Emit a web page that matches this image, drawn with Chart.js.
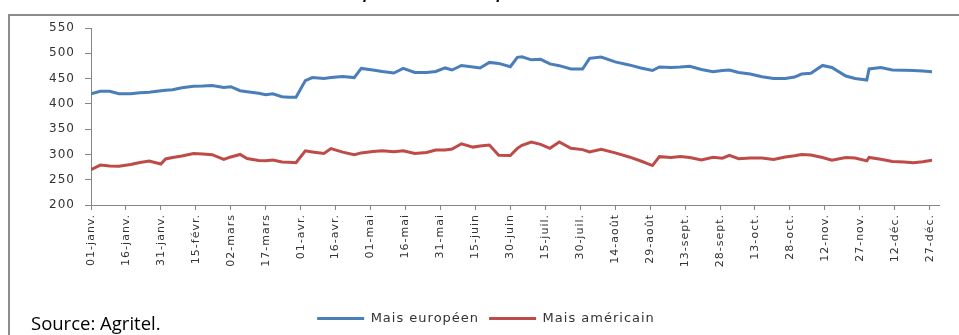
<!DOCTYPE html>
<html>
<head>
<meta charset="utf-8">
<script src="https://cdn.jsdelivr.net/npm/chart.js@4/dist/chart.umd.min.js"></script>
<style>
  html, body { margin: 0; padding: 0; background: #fff; overflow: hidden; }
  #wrap { width: 959px; height: 335px; position: relative; overflow: hidden; }
</style>
</head>
<body>
<div id="wrap"><canvas id="prix"></canvas></div>
<script>
// jour de l'année (0 = 1er janvier) pour chaque cotation
var jours = [0,4,8,12,17,21,25,30,32,35,39,44,48,52,57,60,64,67,72,75,78,82,85,88,
  92,95,100,103,108,113,116,121,125,130,134,139,144,148,152,155,159,164,167,171,175,
  180,183,185,189,193,197,201,206,211,214,219,225,231,236,241,244,249,253,257,262,267,
  271,274,278,283,288,293,298,302,305,309,314,318,324,328,333,334,339,344,349,353,357,361];

var maisEuropeen = [420,425,425,420,420,422,423,426,427,428,432,435,435.5,436.5,432.5,434,426,424,421,418,420,414,413,413,
  446,452,450,452,454,452,470,467,464,461,470,462,462,464,471,467,476,473,471,482,480,
  473.5,492,493,487,488,479,475.5,469,469,490,492.5,483,477,471,466,473,472,473,474.5,468,463.6,
  466,467,462,459,453.5,450,450,453,459,460.4,476,472,455,450,447,469,472,467,466.5,466,465,463.6];

var maisAmericain = [270,279,277,276.5,280,284,287,281,291,294,297,302,301,299.5,290,295,300,292,288,287.6,289,285,284.5,283.7,
  307,305,302,311.5,304.5,299.5,303,306,307.4,305.5,307.4,302,304,308.8,309,310.8,321,314.5,316.5,318.7,298.5,
  298,312,318,324.5,320,312,324.5,312,309.5,305,310,303,295,287,278,295.6,294,296,294,289,294.5,
  292.5,298,291.5,293,293,290,295,297.5,300,299,294,288.5,294,293,287.3,294,290.5,286,285,283.7,285.5,288.5];

// une étiquette tous les 15 jours
var etiquettes = ['01-janv.','16-janv.','31-janv.','15-févr.','02-mars','17-mars','01-avr.','16-avr.',
  '01-mai','16-mai','31-mai','15-juin','30-juin','15-juil.','30-juil.','14-août','29-août',
  '13-sept.','28-sept.','13-oct.','28-oct.','12-nov.','27-nov.','12-déc.','27-déc.'];

function serie(valeurs) {
  return jours.map(function (j, i) { return { x: j, y: valeurs[i] }; });
}

// espacement des lettres, comme dans l'export d'origine
var espacement = {
  id: 'espacement',
  beforeUpdate: function (chart) { chart.ctx.letterSpacing = '1px'; },
  beforeDraw: function (chart) { chart.ctx.letterSpacing = '1px'; }
};

// cadre, titre (coupé en haut) et source
var habillage = {
  id: 'habillage',
  afterDraw: function (chart) {
    var ctx = chart.ctx;
    ctx.save();
    ctx.letterSpacing = '0px';

    ctx.fillStyle = '#8c8c8c';
    ctx.fillRect(8, 14, 1000, 2);
    ctx.fillRect(8, 14, 2, 400);

    ctx.textBaseline = 'alphabetic';
    ctx.fillStyle = '#000';
    ctx.font = 'bold italic 16px "Liberation Sans"';
    ctx.textAlign = 'center';
    ctx.fillText('Evolution des prix du maïs européen et américain', 443, -1);

    ctx.textAlign = 'left';
    ctx.font = '18.5px "Open Sans"';
    ctx.fillText('Source: Agritel.', 31, 330);
    ctx.restore();
  }
};

Chart.defaults.font.family = '"DejaVu Sans"';
Chart.defaults.color = '#333';

new Chart(document.getElementById('prix'), {
  type: 'line',
  data: {
    datasets: [{
      label: 'Mais européen',
      data: serie(maisEuropeen),
      borderColor: '#4a7ebb',
      backgroundColor: '#4a7ebb',
      borderWidth: 3,
      pointRadius: 0,
      tension: 0
    }, {
      label: 'Mais américain',
      data: serie(maisAmericain),
      borderColor: '#be4b48',
      backgroundColor: '#be4b48',
      borderWidth: 3,
      pointRadius: 0,
      tension: 0
    }]
  },
  options: {
    responsive: true,
    maintainAspectRatio: false,
    animation: false,
    layout: { padding: { left: 33, right: 20, top: 28, bottom: 0 } },
    plugins: {
      tooltip: { enabled: false },
      legend: {
        position: 'bottom',
        labels: {
          usePointStyle: true,
          pointStyle: 'line',
          pointStyleWidth: 47,
          padding: 10,
          color: '#333',
          font: { size: 13 }
        }
      }
    },
    scales: {
      x: {
        type: 'linear',
        min: 0,
        max: 364,
        afterFit: function (scale) { scale.height = 97; },
        border: { display: true, color: '#868686', width: 1 },
        grid: { drawOnChartArea: false, drawTicks: true, tickLength: 5, color: '#868686' },
        ticks: {
          stepSize: 15,
          includeBounds: false,
          autoSkip: false,
          maxRotation: 90,
          minRotation: 90,
          padding: 4,
          font: { size: 11 },
          callback: function (v) { return etiquettes[v / 15]; }
        }
      },
      y: {
        min: 200,
        max: 550,
        afterFit: function (scale) { scale.width = 58; },
        border: { display: true, color: '#868686', width: 1 },
        grid: { drawOnChartArea: false, drawTicks: true, tickLength: 6, color: '#868686' },
        ticks: { stepSize: 50, padding: 10, font: { size: 12 } }
      }
    }
  },
  plugins: [espacement, habillage]
});
</script>
</body>
</html>
